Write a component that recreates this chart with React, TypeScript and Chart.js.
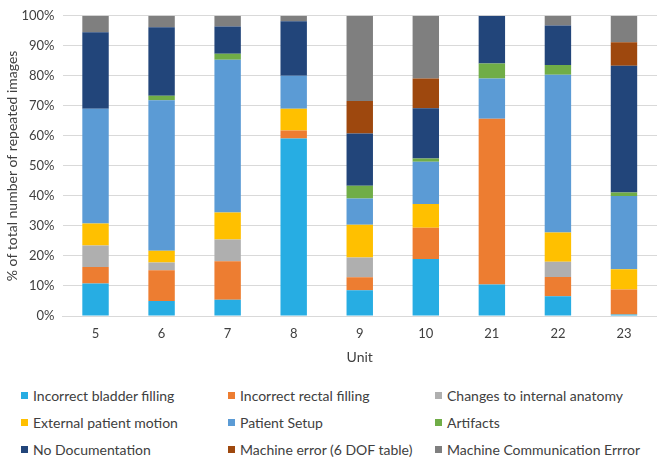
import React, { useEffect, useRef } from "react";
import { Chart, registerables } from "chart.js";

Chart.register(...registerables);

const units = ["5", "6", "7", "8", "9", "10", "21", "22", "23"];
const seriesNames = [
  "Incorrect bladder filling",
  "Incorrect rectal filling",
  "Changes to internal anatomy",
  "External patient motion",
  "Patient Setup",
  "Artifacts",
  "No Documentation",
  "Machine error (6 DOF table)",
  "Machine Communication Errror",
];
const bladder = [10.8, 5.0, 5.4, 59.1, 8.6, 19.0, 10.5, 6.6, 0.5];
const rectal = [5.5, 10.2, 12.8, 2.7, 4.3, 10.4, 55.2, 6.4, 8.3];
const anatomy = [7.2, 2.6, 7.3, 0, 6.6, 0, 0, 5.1, 0];
const motion = [7.3, 3.9, 9.0, 7.2, 10.9, 7.9, 0, 9.7, 6.8];
const setup = [38.2, 50.2, 50.9, 11.0, 8.7, 14.1, 13.4, 52.6, 24.4];
const artifacts = [0, 1.5, 2.0, 0, 4.3, 1.1, 5.0, 3.2, 1.1];
const noDoc = [25.5, 22.8, 9.0, 18.2, 17.4, 16.7, 15.9, 13.2, 42.3];
const machineErr = [0, 0, 0, 0, 10.8, 9.9, 0, 0, 7.8];
const commErr = [5.5, 3.8, 3.6, 1.8, 28.4, 20.9, 0, 3.2, 8.8];
const seriesValues = [bladder, rectal, anatomy, motion, setup, artifacts, noDoc, machineErr, commErr];
const colors = [
  "#27ADE3",
  "#ED7D31",
  "#AFAFAF",
  "#FFC000",
  "#5B9BD5",
  "#70AD47",
  "#22457A",
  "#9E480E",
  "#7F7F7F",
];

const FONT = "Lato, 'Liberation Sans', sans-serif";
const TEXT = "#404040";

export default function App() {
  const ref = useRef<HTMLCanvasElement | null>(null);
  useEffect(() => {
    document.body.style.margin = "0";
    const canvas = ref.current;
    if (!canvas) return;
    const chart = new Chart(canvas, {
      type: "bar",
      data: {
        labels: units,
        datasets: seriesNames.map((name, i) => ({
          label: name,
          data: seriesValues[i],
          backgroundColor: colors[i],
          borderWidth: 0,
          categoryPercentage: 1,
          barPercentage: 0.4,
        })),
      },
      options: {
        animation: false,
        responsive: false,
        maintainAspectRatio: false,
        layout: { padding: { top: 7, right: 0, bottom: 0, left: 0 } },
        plugins: { legend: { display: false }, tooltip: { enabled: false } },
        scales: {
          x: {
            stacked: true,
            grid: { display: false, drawTicks: false },
            border: { color: "#D9D9D9", width: 1 },
            ticks: { color: TEXT, font: { family: FONT, size: 13 }, padding: 10 },
            title: {
              display: true,
              text: "Unit",
              color: TEXT,
              font: { family: FONT, size: 14 },
              padding: { top: 2 },
            },
            afterFit: (s: any) => {
              s.height = 54;
            },
          },
          y: {
            stacked: true,
            min: 0,
            max: 100,
            ticks: {
              stepSize: 10,
              color: TEXT,
              font: { family: FONT, size: 13 },
              padding: 8,
              callback: (v: any) => v + "%",
            },
            grid: { color: "#D9D9D9", drawTicks: false },
            border: { display: false },
            title: {
              display: true,
              text: "% of total number of repeated images",
              color: TEXT,
              font: { family: FONT, size: 14 },
              padding: { bottom: 2 },
            },
            afterFit: (s: any) => {
              s.width = 62.5;
            },
          },
        },
      },
    });
    return () => chart.destroy();
  }, []);

  const legendLeft = [21, 228, 435];
  return (
    <div style={{ position: "relative", width: 657, height: 458, fontFamily: FONT }}>
      <canvas ref={ref} width={657} height={370} style={{ display: "block" }} />
      {seriesNames.map((name, i) => {
        const row = Math.floor(i / 3);
        const col = i % 3;
        return (
          <div
            key={name}
            style={{
              position: "absolute",
              left: legendLeft[col],
              top: 386 + row * 27,
              height: 18,
              display: "flex",
              alignItems: "center",
              fontSize: 14,
              color: TEXT,
              whiteSpace: "nowrap",
            }}
          >
            <span
              style={{
                display: "inline-block",
                width: 7,
                height: 7,
                background: colors[i],
                marginRight: 5,
              }}
            />
            {name}
          </div>
        );
      })}
    </div>
  );
}
